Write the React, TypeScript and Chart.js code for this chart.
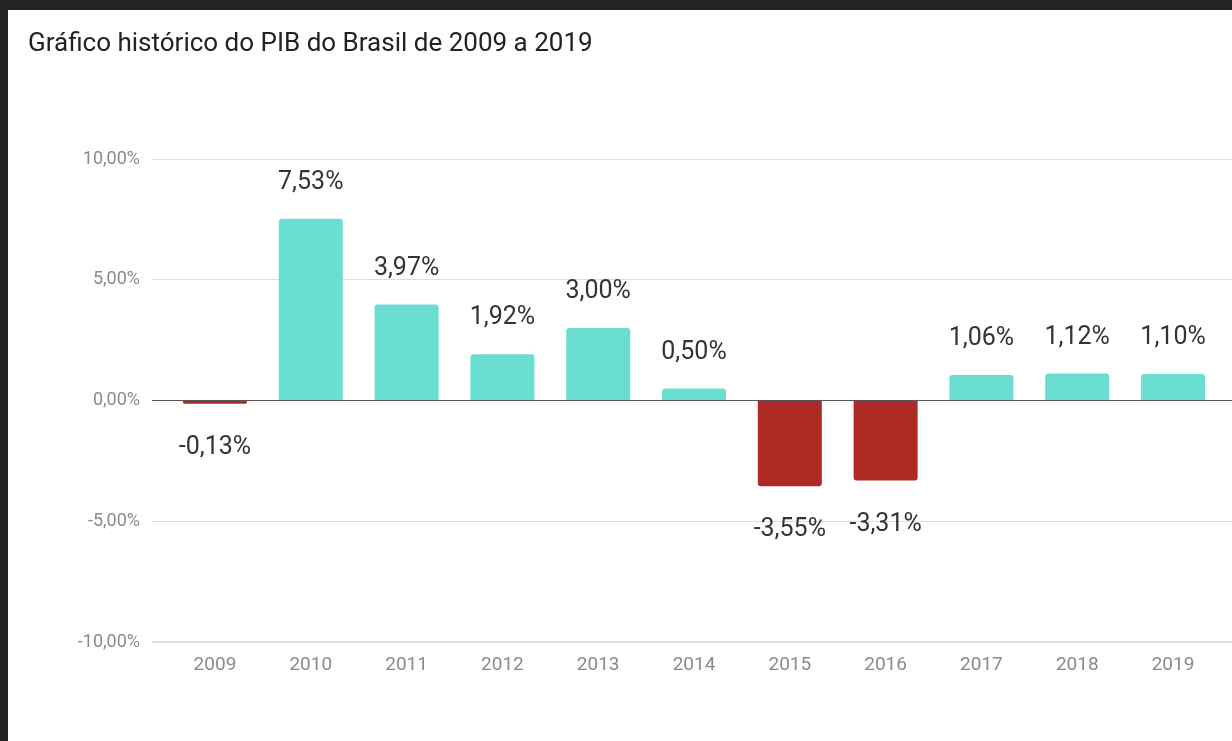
import React, { useEffect, useRef } from "react";
import { Chart, registerables } from "chart.js";

Chart.register(...registerables);

const years = ["2009", "2010", "2011", "2012", "2013", "2014", "2015", "2016", "2017", "2018", "2019"];
const pibGrowth = [-0.13, 7.53, 3.97, 1.92, 3.0, 0.5, -3.55, -3.31, 1.06, 1.12, 1.1];
const yTicks = [-10, -5, 0, 5, 10];
const titleText = "Gráfico histórico do PIB do Brasil de 2009 a 2019";

const POS_COLOR = "#6ADFD1";
const NEG_COLOR = "#AE2A25";

const fmt = (v: number) => v.toFixed(2).replace(".", ",") + "%";

const labelPlugin = {
  id: "valueLabels",
  afterDatasetsDraw(chart: any) {
    const ctx = chart.ctx;
    const meta = chart.getDatasetMeta(0);
    ctx.save();
    ctx.font = "25px Roboto";
    ctx.fillStyle = "#333333";
    ctx.textAlign = "center";
    ctx.textBaseline = "middle";
    meta.data.forEach((bar: any, i: number) => {
      const v = pibGrowth[i];
      const y = v >= 0 ? bar.y - 36 : bar.y + 44;
      ctx.fillText(fmt(v), bar.x, y);
    });
    ctx.restore();
  },
};

const titlePlugin = {
  id: "customTitle",
  afterDraw(chart: any) {
    const ctx = chart.ctx;
    ctx.save();
    ctx.font = "26px Roboto";
    ctx.fillStyle = "#222222";
    ctx.textAlign = "left";
    ctx.textBaseline = "middle";
    ctx.fillText(titleText, 20, 34);
    ctx.restore();
  },
};

export default function App() {
  const ref = useRef<HTMLCanvasElement>(null);
  useEffect(() => {
    if (!ref.current) return;
    const chart = new Chart(ref.current, {
      type: "bar",
      data: {
        datasets: [
          {
            data: years.map((_, i) => ({ x: i, y: pibGrowth[i] })),
            backgroundColor: pibGrowth.map((v) => (v >= 0 ? POS_COLOR : NEG_COLOR)),
            borderRadius: 3,
            categoryPercentage: 1,
            barPercentage: 0.668,
          },
        ],
      },
      options: {
        animation: false,
        responsive: false,
        devicePixelRatio: 1,
        layout: { padding: { top: 149, right: 12, bottom: 0, left: 0 } },
        plugins: { legend: { display: false }, tooltip: { enabled: false }, title: { display: false } },
        scales: {
          x: {
            type: "linear",
            offset: false,
            min: -0.657,
            max: 10.657,
            grid: { display: false },
            border: { display: false },
            afterBuildTicks: (s: any) => {
              s.ticks = years.map((_, i) => ({ value: i }));
            },
            afterFit: (s: any) => {
              s.height = 99;
            },
            ticks: {
              callback: (v: any) => years[v as number],
              color: "#8a8a8a",
              font: { size: 19, family: "Roboto" },
              padding: 4,
              autoSkip: false,
              maxRotation: 0,
            },
          },
          y: {
            min: -10,
            max: 10,
            afterBuildTicks: (s: any) => {
              s.ticks = yTicks.map((v) => ({ value: v }));
            },
            afterFit: (s: any) => {
              s.width = 144;
            },
            grid: {
              color: (c: any) => (c.tick && c.tick.value === 0 ? "#555555" : "#dddddd"),
              lineWidth: (c: any) => (c.tick && c.tick.value === -10 ? 2 : 1),
              drawTicks: false,
            },
            border: { display: false },
            ticks: {
              callback: (v: any) => fmt(Number(v)),
              color: "#8a8a8a",
              font: { size: 18, family: "Roboto" },
              padding: 12,
            },
          },
        },
      },
      plugins: [labelPlugin, titlePlugin],
    });
    return () => chart.destroy();
  }, []);

  return (
    <div
      style={{
        position: "fixed",
        left: 0,
        top: 0,
        width: 1232,
        height: 741,
        background: "#232323",
        overflow: "hidden",
      }}
    >
      <div style={{ position: "absolute", left: 8, top: 10, width: 1240, height: 731, background: "#ffffff" }}>
        <canvas ref={ref} width={1240} height={731} style={{ display: "block", width: 1240, height: 731 }} />
      </div>
    </div>
  );
}
